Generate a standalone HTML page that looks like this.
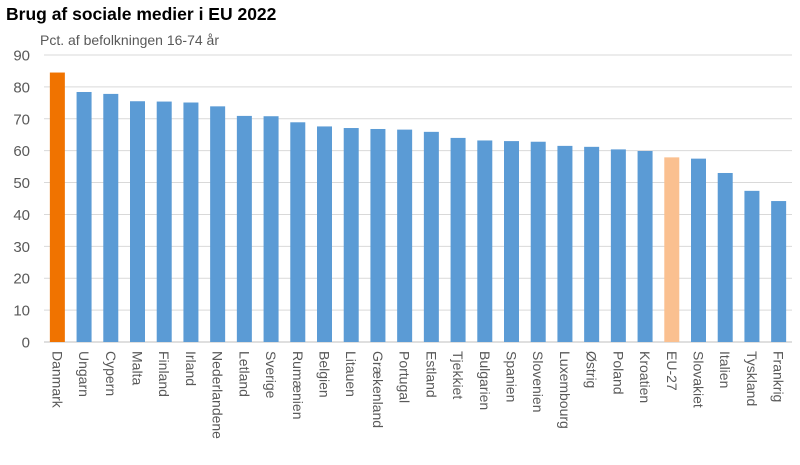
<!DOCTYPE html>
<html><head><meta charset="utf-8"><style>
body{margin:0;background:#fff;font-family:"Liberation Sans",sans-serif}
</style></head><body>
<svg width="800" height="460" xmlns="http://www.w3.org/2000/svg">
<text x="6" y="20" font-size="17.5" font-weight="bold" fill="#000">Brug af sociale medier i EU 2022</text>
<text x="40" y="45" font-size="14" fill="#595959">Pct. af befolkningen 16-74 år</text>
<g id="grid"></g><g id="bars"></g><g id="labels"></g>
</svg>
<script>
const categories=["Danmark","Ungarn","Cypern","Malta","Finland","Irland","Nederlandene","Letland","Sverige","Rumænien","Belgien","Litauen","Grækenland","Portugal","Estland","Tjekkiet","Bulgarien","Spanien","Slovenien","Luxembourg","Østrig","Poland","Kroatien","EU-27","Slovakiet","Italien","Tyskland","Frankrig"];
const values=[84.5,78.4,77.8,75.5,75.4,75.1,73.9,70.9,70.8,68.9,67.6,67.1,66.8,66.6,65.9,64.0,63.2,63.0,62.8,61.5,61.2,60.4,59.9,57.9,57.5,53.0,47.4,44.2];
const ticks=[0,10,20,30,40,50,60,70,80,90];
const NS="http://www.w3.org/2000/svg";
const x0=44,x1=792,y0=342,y90=55;
const y=v=>y0-(y0-y90)*v/90;
const pitch=(x1-x0)/categories.length;
const xc=i=>x0+pitch*(i+0.5);
const grid=document.getElementById('grid'),bars=document.getElementById('bars'),labels=document.getElementById('labels');
ticks.forEach(t=>{
 const l=document.createElementNS(NS,'line');
 
 
 l.setAttribute('x1',x0);l.setAttribute('x2',x1);l.setAttribute('y1',y(t));l.setAttribute('y2',y(t));
 l.setAttribute('stroke',t===0?'#bfbfbf':'#d9d9d9');l.setAttribute('stroke-width','1');
 grid.appendChild(l);
 const tx=document.createElementNS(NS,'text');
 
 
 tx.setAttribute('x',30);tx.setAttribute('y',y(t)+5.5);tx.setAttribute('text-anchor','end');
 tx.setAttribute('font-size','15');tx.setAttribute('fill','#595959');tx.textContent=t;
 grid.appendChild(tx);
});
categories.forEach((c,i)=>{
 const r=document.createElementNS(NS,'rect');
 
 
 const w=15;
 r.setAttribute('x',xc(i)-w/2);r.setAttribute('width',w);
 r.setAttribute('y',y(values[i]));r.setAttribute('height',y0-y(values[i]));
 r.setAttribute('fill',c==='Danmark'?'#f07300':c==='EU-27'?'#fac090':'#5b9bd5');
 bars.appendChild(r);
 const t=document.createElementNS(NS,'text');
 
 
 t.setAttribute('transform','translate('+(xc(i)-5)+',351) rotate(90)');
 t.setAttribute('font-size','14');t.setAttribute('fill','#595959');t.textContent=c;
 labels.appendChild(t);
});
</script>
</body></html>
